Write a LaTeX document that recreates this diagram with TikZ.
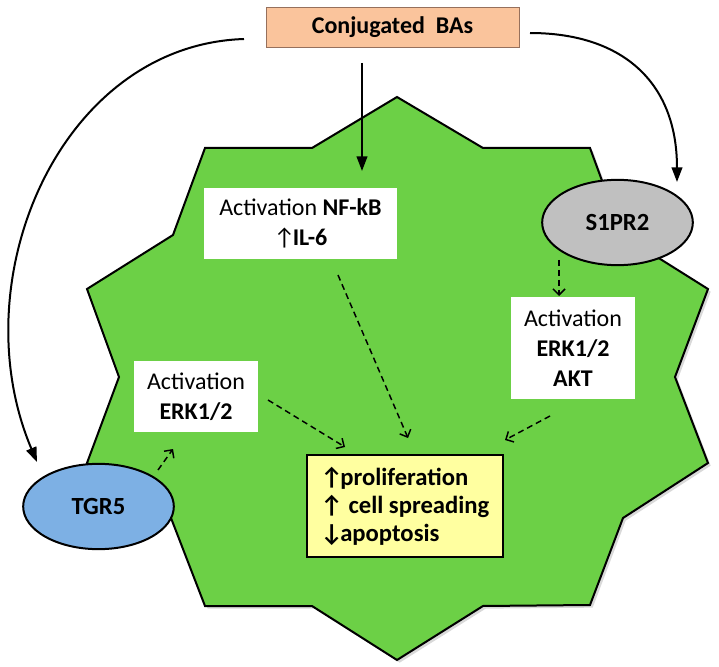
\documentclass[tikz,border=0pt]{standalone}
\usepackage{fontspec}
\setmainfont{Carlito}
\usepackage{xcolor}
\usepackage{tikz}
\usetikzlibrary{arrows.meta,shapes.geometric,shadows}

\definecolor{cellgreen}{RGB}{108,208,70}
\definecolor{bafill}{RGB}{250,196,156}
\definecolor{baborder}{RGB}{150,112,92}
\definecolor{tgrblue}{RGB}{125,176,228}
\definecolor{sgray}{RGB}{192,192,192}
\definecolor{resyellow}{RGB}{255,255,160}

\begin{document}
\begin{tikzpicture}[x=0.75pt, y=-0.75pt,
                    font=\fontsize{18}{22.5}\selectfont,
                    lbl/.style n args={2}{fill=white, inner sep=0pt, align=center,
                    minimum width=#1, minimum height=#2},
                    recp/.style={ellipse, draw, line width=1.5pt, fill=#1,
                    minimum width=113pt, minimum height=64pt,
                    font=\fontsize{18.5}{22}\selectfont\bfseries},
                    sol/.style={line width=1.5pt, -{Triangle[length=11pt, width=8pt]}},
                    dsh/.style={line width=1.1pt, dash pattern=on 4.5pt off 3pt,
                    -{Straight Barb[length=4.5pt, width=9pt]}}]
    \useasboundingbox (0,0) rectangle (719,667);

    % cell
    \path[fill=cellgreen, draw=black, line width=1.5pt, line join=miter,
          drop shadow={shadow xshift=2pt, shadow yshift=-2pt, opacity=0.3}]
        (397,97) -- (483,148) -- (590,148) -- (622,235) -- (708,289) -- (675,377)
        -- (708,463) -- (623,518) -- (590,605) -- (483,606) -- (397,660) -- (312,606)
        -- (205,606) -- (171,518) -- (87,463) -- (119,377) -- (87,289) -- (173,235)
        -- (205,148) -- (312,148) -- cycle;

    \node[draw=baborder, fill=bafill, minimum width=189.75pt, minimum height=30pt,
          font=\fontsize{18}{22}\selectfont\bfseries] (ba) at (392.5,27.5) {Conjugated\ \ BAs};

    \node[lbl={144.75pt}{53.25pt}] (nfkb) at (300.5,223.5)
        {Activation \textbf{NF-kB}\\↑\kern-2pt\textbf{IL-6}};
    \node[lbl={93pt}{76.5pt}] (erkr) at (573,348)
        {Activation\\\textbf{ERK1/2}\\\textbf{AKT}};
    \node[lbl={93pt}{53.25pt}] (erkl) at (196,396.5)
        {Activation\\\textbf{ERK1/2}};

    \node[draw, line width=1.8pt, fill=resyellow, minimum width=147pt,
          minimum height=76.5pt, align=left, font=\fontsize{18.5}{21}\selectfont\bfseries] (res) at (405,506)
        {↑\kern-2pt proliferation\\↑ cell spreading\\↓\kern-2pt apoptosis};

    \node[recp=tgrblue] (tgr) at (98.5,506.5) {TGR5};
    \node[recp=sgray] (s1p) at (617.5,222.5) {S1PR2};

    % arrow ends
    \coordinate (l0) at (244,39);
    \coordinate (l1) at (37,462);
    \coordinate (r0) at (530,33);
    \coordinate (r1) at (677,182);
    \coordinate (m0) at (362,63);
    \coordinate (m1) at (362,171);

    \draw[sol] (l0) .. controls (60,45) and (-40,280) .. (l1);
    \draw[sol] (r0) .. controls (620,33) and (677,80) .. (r1);
    \draw[sol] (m0) -- (m1);

    \draw[dsh] (158,470) -- (173,449);
    \draw[dsh] (559,260) -- (559,296);
    \draw[dsh] (338,275) -- (408,438);
    \draw[dsh] (268,400) -- (345,447);
    \draw[dsh] (550,416) -- (505,440);
\end{tikzpicture}
\end{document}
